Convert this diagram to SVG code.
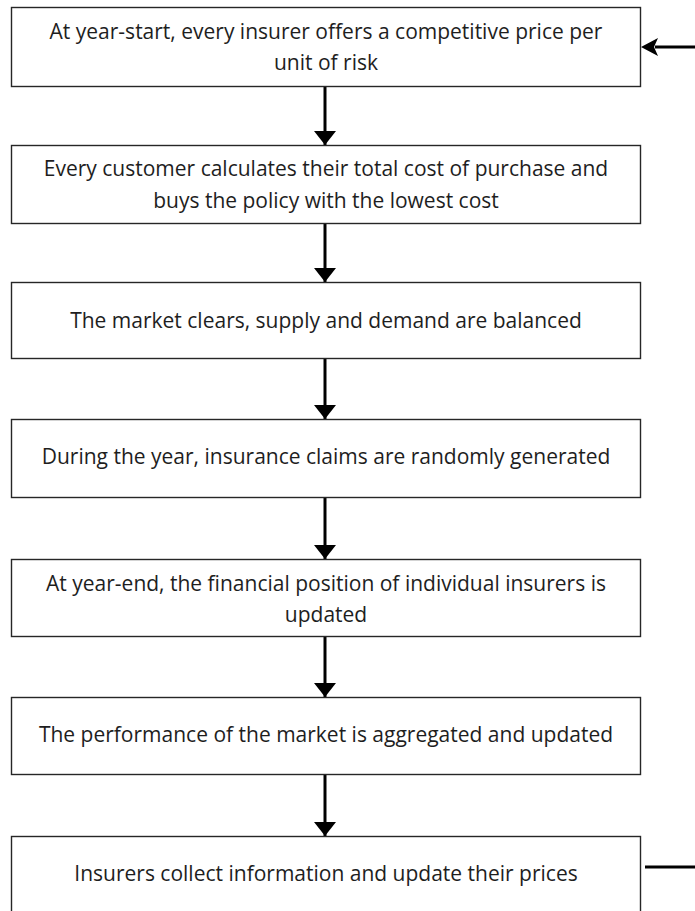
<svg xmlns="http://www.w3.org/2000/svg" width="695" height="911" viewBox="0 0 695 911">
<style>
  .box { fill: #ffffff; stroke: #262626; stroke-width: 1.4; }
  .lbl { font-family: "Open Sans", "Liberation Sans", sans-serif; font-size: 21px; fill: #1e1e1e; text-anchor: middle; dominant-baseline: central; }
  .wire { stroke: #000000; stroke-width: 3; fill: none; }
</style>
<defs>
  <marker id="head" viewBox="0 0 14 22" refX="14" refY="11" markerWidth="14" markerHeight="22" markerUnits="userSpaceOnUse" orient="auto">
    <path d="M0,0 L14,11 L0,22 Z" fill="#000000"/>
  </marker>
</defs>
<rect width="695" height="911" fill="#ffffff"/>
<g id="connectors">
  <line class="wire" x1="325" y1="86" x2="325" y2="145" marker-end="url(#head)"/>
  <line class="wire" x1="325" y1="223" x2="325" y2="282" marker-end="url(#head)"/>
  <line class="wire" x1="325" y1="358" x2="325" y2="419" marker-end="url(#head)"/>
  <line class="wire" x1="325" y1="497" x2="325" y2="559" marker-end="url(#head)"/>
  <line class="wire" x1="325" y1="636" x2="325" y2="697" marker-end="url(#head)"/>
  <line class="wire" x1="325" y1="774" x2="325" y2="836" marker-end="url(#head)"/>
  <line class="wire" x1="695" y1="47" x2="655" y2="47"/>
  <path d="M641,47 L658,38 L654,47 L658,56 Z" fill="#000000"/>
  <line class="wire" x1="645" y1="867" x2="695" y2="867"/>
</g>
<g id="node1">
  <rect class="box" x="11.5" y="7.5" width="629" height="79"/>
  <text class="lbl" x="326" y="31">At year-start, every insurer offers a competitive price per</text>
  <text class="lbl" x="326" y="62">unit of risk</text>
</g>
<g id="node2">
  <rect class="box" x="11.5" y="145.5" width="629" height="78"/>
  <text class="lbl" x="326" y="168">Every customer calculates their total cost of purchase and</text>
  <text class="lbl" x="326" y="200">buys the policy with the lowest cost</text>
</g>
<g id="node3">
  <rect class="box" x="11.5" y="282.5" width="629" height="76"/>
  <text class="lbl" x="326" y="320">The market clears, supply and demand are balanced</text>
</g>
<g id="node4">
  <rect class="box" x="11.5" y="419.5" width="629" height="78"/>
  <text class="lbl" x="326" y="456">During the year, insurance claims are randomly generated</text>
</g>
<g id="node5">
  <rect class="box" x="11.5" y="559.5" width="629" height="77"/>
  <text class="lbl" x="326" y="583">At year-end, the financial position of individual insurers is</text>
  <text class="lbl" x="326" y="614">updated</text>
</g>
<g id="node6">
  <rect class="box" x="11.5" y="697.5" width="629" height="77"/>
  <text class="lbl" x="326" y="734">The performance of the market is aggregated and updated</text>
</g>
<g id="node7">
  <rect class="box" x="11.5" y="836.5" width="629" height="90"/>
  <text class="lbl" x="326" y="873">Insurers collect information and update their prices</text>
</g>
</svg>
